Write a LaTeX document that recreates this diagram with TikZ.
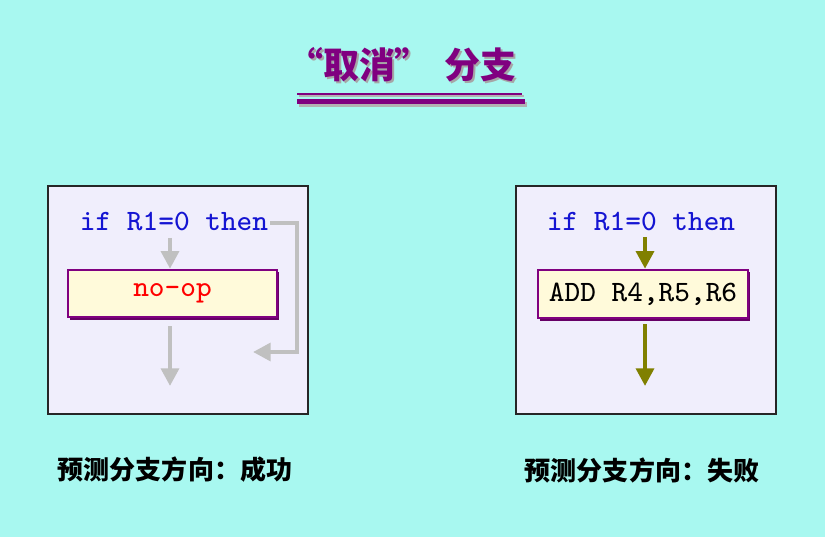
\documentclass[tikz,border=0pt]{standalone}
\usepackage{fontspec}
\newfontfamily\cjk{Noto Sans CJK SC}
\usetikzlibrary{arrows.meta}
\definecolor{bgc}{RGB}{168,248,240}
\definecolor{boxc}{RGB}{240,238,252}
\definecolor{ttl}{RGB}{128,0,128}
\definecolor{instc}{RGB}{255,250,218}
\definecolor{greyarr}{RGB}{192,192,192}
\definecolor{olive}{RGB}{128,128,0}
\definecolor{codeblue}{RGB}{20,20,210}
\tikzset{
  panel/.style={draw=black!85, line width=0.5pt, fill=boxc},
  instbox/.style={draw=ttl, line width=0.7pt, fill=instc, minimum width=2.09cm, minimum height=0.47cm, inner sep=0pt},
  shadow/.style={fill=ttl!80!black},
  codetxt/.style={font=\ttfamily\fontsize{8.4}{9}\selectfont, inner sep=0pt},
  garr/.style={draw=greyarr, line width=1.2pt, -{Triangle[length=5pt,width=5pt]}},
  oarr/.style={draw=olive, line width=1.2pt, -{Triangle[length=5pt,width=5pt]}},
  caption/.style={font=\cjk\bfseries\fontsize{7.4}{8}\selectfont, inner sep=0pt},
  titletxt/.style={font=\cjk\bfseries\fontsize{10.2}{11}\selectfont, inner sep=0pt}
}
\begin{document}
\begin{tikzpicture}[x={(0.01cm,0)}, y={(0,-0.01cm)}]
\fill[bgc] (0,0) rectangle (825,537);
\useasboundingbox (0,0) rectangle (825,537);
% title
\node[titletxt, text=black!35] at (404,67) {“取消”\,\ 分支};
\node (title) [titletxt, text=ttl] at (402,65) {“取消”\,\ 分支};
\fill[black!30] (299,95) rectangle (524,97);
\fill[ttl] (297,93) rectangle (522,95);
\fill[black!30] (299,102) rectangle (527,107);
\fill[ttl] (297,99) rectangle (525,104);
% left panel
\draw[panel] (48,186) rectangle (308,414);
\node (lif) [codetxt, text=codeblue] at (174,221) {if R1=0 then};
\fill[shadow] (70,272) rectangle (279,319.5);
\node (nop) [instbox, text=red, font=\ttfamily\fontsize{8.4}{9}\selectfont] at (172.5,293.5) {no-op};
\coordinate (la1) at (170,238);
\coordinate (lb1) at (170,326);
\coordinate (lb2) at (170,386);
\coordinate (lc1) at (270,223);
\coordinate (lc2) at (297,223);
\coordinate (lc3) at (297,352);
\coordinate (lc4) at (253,352);
\draw[garr] (la1) -- (la1 |- nop.north);
\draw[garr] (lb1) -- (lb2);
\draw[garr] (lc1) -- (lc2) -- (lc3) -- (lc4);
% right panel
\draw[panel] (516,186) rectangle (776,414);
\node (rif) [codetxt, text=codeblue] at (641,221) {if R1=0 then};
\fill[shadow] (540,272) rectangle (750,320.5);
\node (add) [instbox, text=black, font=\ttfamily\fontsize{8.4}{9}\selectfont, minimum width=2.1cm, minimum height=0.48cm] at (643,294) {ADD R4,R5,R6};
\coordinate (ra1) at (645,237);
\coordinate (rb1) at (645,324);
\coordinate (rb2) at (645,386);
\draw[oarr] (ra1) -- (ra1 |- add.north);
\draw[oarr] (rb1) -- (rb2);
% captions
\node (capl) [caption] at (175,470) {预测分支方向：成功};
\node (capr) [caption] at (642,470) {预测分支方向：失败};
\end{tikzpicture}
\end{document}
